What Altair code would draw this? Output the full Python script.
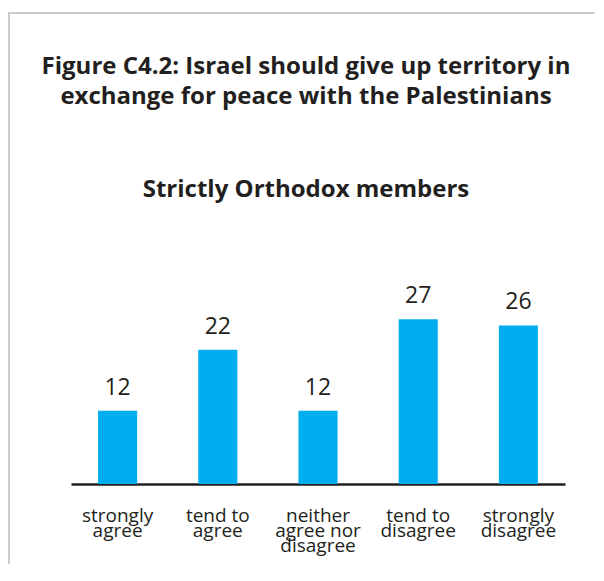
import altair as alt
import pandas as pd

categories = ["strongly agree", "tend to agree", "neither agree nor disagree",
              "tend to disagree", "strongly disagree"]
category_labels = ["strongly|agree", "tend to|agree", "neither|agree nor|disagree",
                   "tend to|disagree", "strongly|disagree"]
values = [12, 22, 12, 27, 26]

df = pd.DataFrame({"category": category_labels, "value": values})

TEXT = "#231f20"
BAR = "#00aeef"

x_enc = alt.X(
    "category:N",
    sort=category_labels,
    title=None,
    scale=alt.Scale(paddingInner=0.61, paddingOuter=0.27),
    axis=alt.Axis(
        labelExpr="split(datum.label, '|')",
        labelAngle=0,
        labelFont="Open Sans",
        labelFontSize=19,
        labelColor=TEXT,
        labelLineHeight=15,
        labelBaseline="top",
        labelPadding=22,
        ticks=False,
        domainColor=TEXT,
        domainWidth=2.5,
        grid=False,
    ),
)
y_enc = alt.Y("value:Q", scale=alt.Scale(domain=[0, 30]), axis=None)

bars = alt.Chart(df).mark_bar(color=BAR).encode(x=x_enc, y=y_enc)
labels = alt.Chart(df).mark_text(
    font="Open Sans", fontSize=23, color=TEXT, baseline="alphabetic", dy=-16
).encode(x=alt.X("category:N", sort=category_labels), y="value:Q", text="value:Q")

border = alt.Chart(df).mark_rect(
    fill=None, stroke="#cccccc", strokeWidth=2
).encode(
    x=alt.value(-62), x2=alt.value(560), y=alt.value(-288), y2=alt.value(320)
)

chart = alt.layer(border, bars, labels).properties(
    width=494,
    height=183,
    autosize=alt.AutoSizeParams(type="none"),
    padding={"left": 63, "top": 293, "right": 30, "bottom": 80},
    title=alt.TitleParams(
        text=["Figure C4.2: Israel should give up territory in",
              "exchange for peace with the Palestinians"],
        subtitle="Strictly Orthodox members",
        font="Open Sans",
        fontSize=24,
        fontWeight="bold",
        color=TEXT,
        lineHeight=30,
        subtitleFont="Open Sans",
        subtitleFontSize=24,
        subtitleFontWeight="bold",
        subtitleColor=TEXT,
        subtitlePadding=69,
        anchor="middle",
        dx=-12,
        dy=190,
        offset=0,
    ),
).configure_view(stroke=None)

chart.save("out.html", embed_options={"renderer": "svg", "actions": False})
